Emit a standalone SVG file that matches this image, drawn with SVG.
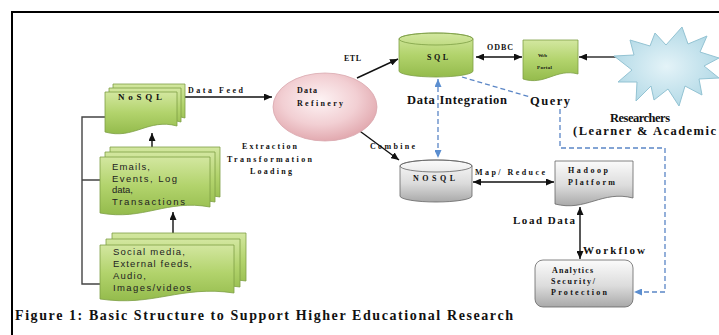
<svg xmlns="http://www.w3.org/2000/svg" width="719" height="335" viewBox="0 0 719 335">
<style>
.lbl{font-family:"Liberation Serif","Times New Roman",serif;font-weight:bold;fill:#111;}
.s7{font-size:8px;}
.s10{font-size:11px;}
.s12{font-size:12.5px;}
.doc{font-family:"Liberation Sans",Arial,sans-serif;font-size:9.5px;fill:#222;}
.green{fill:url(#gGreen);stroke:#7e9f45;stroke-width:0.8;}
.gray{fill:url(#gGray);stroke:#666;stroke-width:0.8;}
.line{fill:none;stroke:#111;stroke-width:1.4;}
.bline{fill:none;stroke:#5b86c6;stroke-width:1.3;stroke-dasharray:5 3;}
</style>
<defs>
<linearGradient id="gGreen" x1="0" y1="0" x2="0" y2="1">
<stop offset="0" stop-color="#d3e7a0"/><stop offset="0.5" stop-color="#b2d36c"/><stop offset="1" stop-color="#94bb4c"/>
</linearGradient>
<linearGradient id="gGray" x1="0" y1="0" x2="0" y2="1">
<stop offset="0" stop-color="#fbfbfb"/><stop offset="0.55" stop-color="#dcdcdc"/><stop offset="1" stop-color="#a9a9a9"/>
</linearGradient>
<radialGradient id="gPink" cx="0.45" cy="0.4" r="0.6">
<stop offset="0" stop-color="#fdf3f4"/><stop offset="0.6" stop-color="#f2cfd3"/><stop offset="1" stop-color="#e2aab0"/>
</radialGradient>
<radialGradient id="gBlue" cx="0.5" cy="0.5" r="0.6">
<stop offset="0" stop-color="#e4f3f8"/><stop offset="1" stop-color="#acd6e4"/>
</radialGradient>
<marker id="ah" viewBox="0 0 8 7" refX="8" refY="3.5" markerWidth="8" markerHeight="7" markerUnits="userSpaceOnUse" orient="auto-start-reverse">
<path d="M0,0 L8,3.5 L0,7 z" fill="#111"/>
</marker>
<marker id="bh" viewBox="0 0 8 7" refX="8" refY="3.5" markerWidth="8" markerHeight="7" markerUnits="userSpaceOnUse" orient="auto-start-reverse">
<path d="M0,0 L8,3.5 L0,7 z" fill="#5b8ed0"/>
</marker>
</defs>
<rect width="719" height="335" fill="#fff"/>
<path d="M12,335 V12 H719" fill="none" stroke="#000" stroke-width="2"/>

<g id="connectors">
<path class="line" d="M180,97 H272" marker-end="url(#ah)"/>
<path class="line" d="M357,78 L398,59" marker-end="url(#ah)"/>
<path class="line" d="M357,129 L399,160" marker-end="url(#ah)"/>
<path class="line" d="M152,147 V133" marker-end="url(#ah)"/>
<path class="line" d="M173,233 V212" marker-end="url(#ah)"/>
<path class="line" style="stroke:#444" d="M105,117 H82 V284 H100 M82,180 H100"/>
<path class="line" d="M476,57 H522" marker-start="url(#ah)" marker-end="url(#ah)"/>
<path class="line" style="stroke:#333" d="M634,57 H579" marker-end="url(#ah)"/>
<path class="line" d="M473,182 H554" marker-start="url(#ah)" marker-end="url(#ah)"/>
<path class="line" d="M580,207 V259" marker-start="url(#ah)" marker-end="url(#ah)"/>
<path class="bline" d="M438,79 V158" marker-start="url(#bh)" marker-end="url(#bh)"/>
<path class="bline" d="M462,77 L530,97"/>
<path class="bline" d="M560,109 V148 H665 V292 H634" marker-end="url(#bh)"/>
</g>

<g id="nosql-stack">
<path class="green" d="M113,84 H185 V118 C156,110 142,132 113,124 Z"/>
<path class="green" d="M109,88 H181 V122 C152,114 138,136 109,128 Z"/>
<path class="green" d="M105,92 H177 V126 C148,118 134,140 105,132 Z"/>
<text class="lbl" x="118" y="100" textLength="44" lengthAdjust="spacing" style="font-size:9px">NoSQL</text>
</g>

<g id="emails-stack">
<path class="green" d="M110,147 H220 V197 C176,189 154,211 110,203 Z"/>
<path class="green" d="M105,152 H215 V202 C171,194 149,216 105,208 Z"/>
<path class="green" d="M100,157 H210 V207 C166,199 144,221 100,213 Z"/>
<text class="doc" x="112" y="170" textLength="38" lengthAdjust="spacing">Emails,</text>
<text class="doc" x="112" y="182" textLength="65" lengthAdjust="spacing">Events, Log</text>
<text class="doc" x="112" y="193" textLength="21" lengthAdjust="spacing">data,</text>
<text class="doc" x="112" y="205" textLength="73" lengthAdjust="spacing">Transactions</text>
</g>

<g id="social-stack">
<path class="green" d="M112,233 H246 V281 C192,273 166,295 112,287 Z"/>
<path class="green" d="M106,239 H240 V287 C186,279 160,301 106,293 Z"/>
<path class="green" d="M100,245 H234 V293 C180,285 154,307 100,299 Z"/>
<text class="doc" x="113" y="255" textLength="72" lengthAdjust="spacing">Social media,</text>
<text class="doc" x="113" y="267" textLength="79" lengthAdjust="spacing">External feeds,</text>
<text class="doc" x="113" y="279" textLength="33" lengthAdjust="spacing">Audio,</text>
<text class="doc" x="113" y="291" textLength="78" lengthAdjust="spacing">Images/videos</text>
</g>

<g id="data-refinery">
<ellipse cx="325" cy="107" rx="52" ry="34" fill="url(#gPink)" stroke="#d9a8ae" stroke-width="0.8"/>
<text class="lbl s7" x="297" y="93" textLength="20" lengthAdjust="spacing">Data</text>
<text class="lbl s7" x="297" y="106" textLength="46" lengthAdjust="spacing">Refinery</text>
</g>

<g id="sql">
<path class="green" d="M399,39 A37,6 0 0 1 473,39 V71 A37,6 0 0 1 399,71 Z"/>
<ellipse cx="436" cy="39" rx="37" ry="6" fill="none" stroke="#7e9f45" stroke-width="0.8"/>
<text class="lbl s7" x="427" y="60" textLength="21" lengthAdjust="spacing">SQL</text>
</g>

<g id="web-portal">
<path class="green" d="M523,40 H578 V74 C556,68 545,86 523,79 Z"/>
<text class="lbl" x="538" y="57" style="font-size:5px" textLength="9" lengthAdjust="spacing">Web</text>
<text class="lbl" x="537" y="69" style="font-size:5px" textLength="15" lengthAdjust="spacing">Portal</text>
</g>

<g id="researchers">
<polygon points="682,27 688,44 707,36 700,52 719,58 704,66 719,78 699,79 702,95 685,86 679,106 668,89 654,100 651,86 636,101 637,82 618,82 632,70 614,56 634,55 630,40 650,46 655,33 666,45" fill="url(#gBlue)" stroke="#93c3d3" stroke-width="1"/>
<text class="lbl s12" x="610" y="122" textLength="60" lengthAdjust="spacing">Researchers</text>
<text class="lbl s12" x="573" y="135" textLength="143" lengthAdjust="spacing">(Learner &amp; Academic</text>
</g>

<g id="nosql-db">
<path class="gray" d="M400,166 A36,6 0 0 1 472,166 V196 A36,6 0 0 1 400,196 Z"/>
<ellipse cx="436" cy="166" rx="36" ry="6" fill="none" stroke="#666" stroke-width="0.8"/>
<text class="lbl s7" x="413" y="181" textLength="42" lengthAdjust="spacing">NOSQL</text>
</g>

<g id="hadoop">
<path class="gray" d="M555,161 H633 V198 C602,190 586,212 555,204 Z"/>
<text class="lbl s7" x="568" y="173" textLength="40" lengthAdjust="spacing">Hadoop</text>
<text class="lbl s7" x="568" y="185" textLength="47" lengthAdjust="spacing">Platform</text>
</g>

<g id="analytics">
<rect class="gray" x="535" y="260" width="98" height="47" rx="8"/>
<text class="lbl s7" x="552" y="273" textLength="41" lengthAdjust="spacing">Analytics</text>
<text class="lbl s7" x="551" y="284" textLength="44" lengthAdjust="spacing">Security/</text>
<text class="lbl s7" x="551" y="295" textLength="56" lengthAdjust="spacing">Protection</text>
</g>

<g id="labels">
<text class="lbl s7" x="188" y="93" textLength="55" lengthAdjust="spacing">Data Feed</text>
<text class="lbl s7" x="344" y="61" textLength="17" lengthAdjust="spacing">ETL</text>
<text class="lbl s7" x="242" y="149" textLength="55" lengthAdjust="spacing">Extraction</text>
<text class="lbl s7" x="227" y="162" textLength="85" lengthAdjust="spacing">Transformation</text>
<text class="lbl s7" x="250" y="174" textLength="42" lengthAdjust="spacing">Loading</text>
<text class="lbl s7" x="370" y="149" textLength="45" lengthAdjust="spacing">Combine</text>
<text class="lbl s7" x="487" y="50" textLength="26" lengthAdjust="spacing">ODBC</text>
<text class="lbl s12" x="407" y="104" textLength="100" lengthAdjust="spacing">Data Integration</text>
<text class="lbl s12" x="530" y="105" textLength="40" lengthAdjust="spacing">Query</text>
<text class="lbl s7" x="475" y="175" textLength="70" lengthAdjust="spacing">Map/ Reduce</text>
<text class="lbl s10" x="513" y="224" textLength="62" lengthAdjust="spacing">Load Data</text>
<text class="lbl s10" x="583" y="254" textLength="62" lengthAdjust="spacing">Workflow</text>
<text class="lbl" x="15" y="320" style="font-size:14px" textLength="498" lengthAdjust="spacing">Figure 1: Basic Structure to Support Higher Educational Research</text>
</g>
</svg>
